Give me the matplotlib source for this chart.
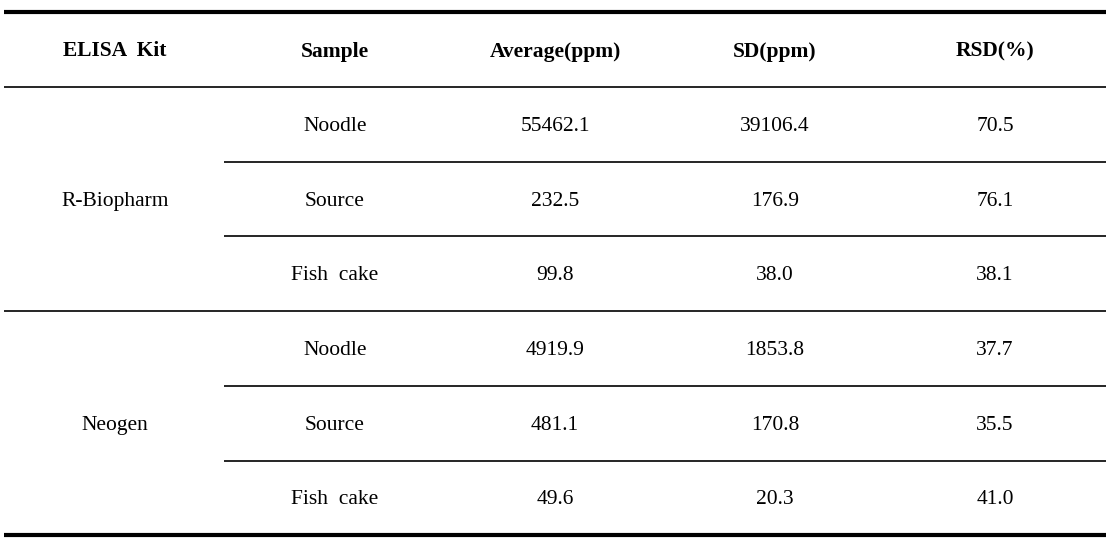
import matplotlib
matplotlib.use("Agg")
import matplotlib.pyplot as plt

# table data
headers = ["ELISA  Kit", "Sample", "Average(ppm)", "SD(ppm)", "RSD(%)"]
kits = ["R-Biopharm", "Neogen"]
samples = ["Noodle", "Source", "Fish  cake"]
average = [["55462.1", "232.5", "99.8"], ["4919.9", "481.1", "49.6"]]
sd = [["39106.4", "176.9", "38.0"], ["1853.8", "170.8", "20.3"]]
rsd = [["70.5", "76.1", "38.1"], ["37.7", "35.5", "41.0"]]

plt.rcParams['font.family'] = ['Liberation Serif', 'DejaVu Serif']

fig = plt.figure(figsize=(11.14, 5.43), dpi=100)
ax = fig.add_axes([0, 0, 1, 1])
ax.set_xlim(0, 1114)
ax.set_ylim(543, 0)
ax.axis('off')

col_x = [115, 335, 555, 775, 995]
left, right, sub_left = 4, 1106, 224
top_y, head_y = 12, 87
row_h = 74.7

# rules
ax.hlines(top_y, left, right, color='black', lw=3)
ax.hlines(head_y, left, right, color='black', lw=1.2)

for i, h in enumerate(headers):
    ax.text(col_x[i], (top_y + head_y) / 2 + 2, h, ha='center', va='center',
            fontsize=15.5, fontweight='bold')

for k, kit in enumerate(kits):
    y0 = head_y + k * 3 * row_h
    ax.text(col_x[0], y0 + 1.5 * row_h + 2, kit, ha='center', va='center', fontsize=15.5)
    for s, sample in enumerate(samples):
        yc = y0 + (s + 0.5) * row_h + 2
        vals = [sample, average[k][s], sd[k][s], rsd[k][s]]
        for j, v in enumerate(vals):
            ax.text(col_x[j + 1], yc, v, ha='center', va='center', fontsize=15.5)
        yb = y0 + (s + 1) * row_h
        if s < 2:
            ax.hlines(yb, sub_left, right, color='black', lw=1.2)
        elif k == 0:
            ax.hlines(yb, left, right, color='black', lw=1.2)
        else:
            ax.hlines(yb, left, right, color='black', lw=3)

fig.savefig("out.png", dpi=100)
